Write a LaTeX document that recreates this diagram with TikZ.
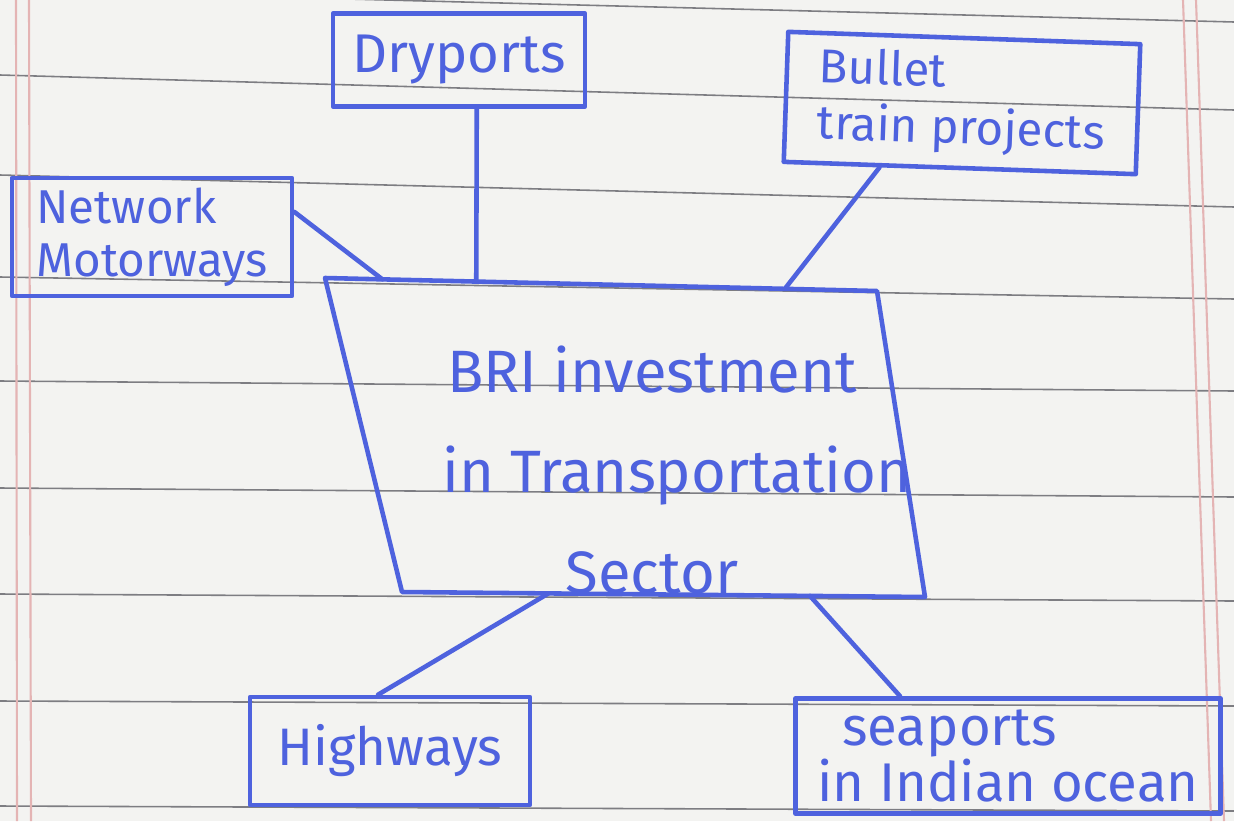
\documentclass[tikz,border=0pt]{standalone}
\usepackage{fontspec}
\setmainfont{Fira Sans}
\usetikzlibrary{
    calc  % For points along the edges of the central box
}
\definecolor{ink}{RGB}{78,98,222}
\definecolor{paper}{RGB}{243,243,241}
\definecolor{rule}{RGB}{125,125,130}
\definecolor{margin}{RGB}{228,180,180}

\tikzset{
    pen/.style={draw=ink, line width=1.3pt, line join=round, line cap=round},
    box/.style={pen, text=ink, rectangle, inner sep=0pt, align=left},
    link/.style={pen}
}

\begin{document}
\begin{tikzpicture}[
    x=0.01cm, y=-0.01cm,
    font=\fontsize{15}{17}\selectfont
]
    % --- The ruled paper ---
    \fill[paper] (0,0) rectangle (1234,821);
    \useasboundingbox (0,0) rectangle (1234,821);
    \foreach \yl/\yr in {-10/22, 75/110, 175/207, 277/299, 381/391, 488/497, 594/601, 701/706, 806/811}
        \draw[rule, line width=0.45pt] (0,\yl) -- (1234,\yr);
    \draw[margin, line width=0.6pt] (16,0) -- (17,821);
    \draw[margin, line width=0.6pt] (29,0) -- (31,821);
    \draw[margin, line width=0.6pt] (1183,0) -- (1211,821);
    \draw[margin, line width=0.6pt] (1196,0) -- (1224,821);

    % --- The central sector box ---
    \coordinate (main_tl) at (325,278);
    \coordinate (main_tr) at (877,291);
    \coordinate (main_br) at (925,597);
    \coordinate (main_bl) at (402,592);
    \draw[pen] (main_tl) -- (main_tr) -- (main_br) -- (main_bl) -- cycle;
    \node[text=ink, align=center, font=\fontsize{17}{28.5}\selectfont] (main_label) at (652,470)
        {BRI investment\\\hspace*{0.5cm}in Transportation\\Sector};

    % points on its edges where the links meet it
    \coordinate (main_n1) at ($(main_tl)!0.104!(main_tr)$);
    \coordinate (main_n2) at ($(main_tl)!0.274!(main_tr)$);
    \coordinate (main_n3) at ($(main_tl)!0.833!(main_tr)$);
    \coordinate (main_s1) at ($(main_bl)!0.28!(main_br)$);
    \coordinate (main_s2) at ($(main_bl)!0.78!(main_br)$);

    % --- The surrounding boxes ---
    \node[box, minimum width=2.52cm, minimum height=0.93cm, font=\fontsize{15.5}{17}\selectfont]
        (dry_box) at (459,60) {Dryports};
    \node[box, minimum width=3.52cm, minimum height=1.3cm, rotate=-2, font=\fontsize{13.5}{16}\selectfont]
        (bullet_box) at (962,103) {Bullet\\train projects};
    \node[box, minimum width=2.8cm, minimum height=1.18cm, font=\fontsize{13.5}{15}\selectfont]
        (net_box) at (152,237) {Network\\Motorways};
    \node[box, minimum width=2.8cm, minimum height=1.08cm]
        (high_box) at (390,751) {Highways};
    \node[box, minimum width=4.25cm, minimum height=1.15cm, font=\fontsize{15.5}{16}\selectfont]
        (sea_box) at (1008,756) {\hspace*{0.25cm}seaports\\in Indian ocean};

    % --- The links ---
    \draw[link] (net_box.10) -- (main_n1);
    \draw[link] (dry_box.290) -- (main_n2);
    \draw[link] (bullet_box.220) -- (main_n3);
    \draw[link] (high_box.102) -- (main_s1);
    \draw[link] (sea_box.151) -- (main_s2);
\end{tikzpicture}
\end{document}
